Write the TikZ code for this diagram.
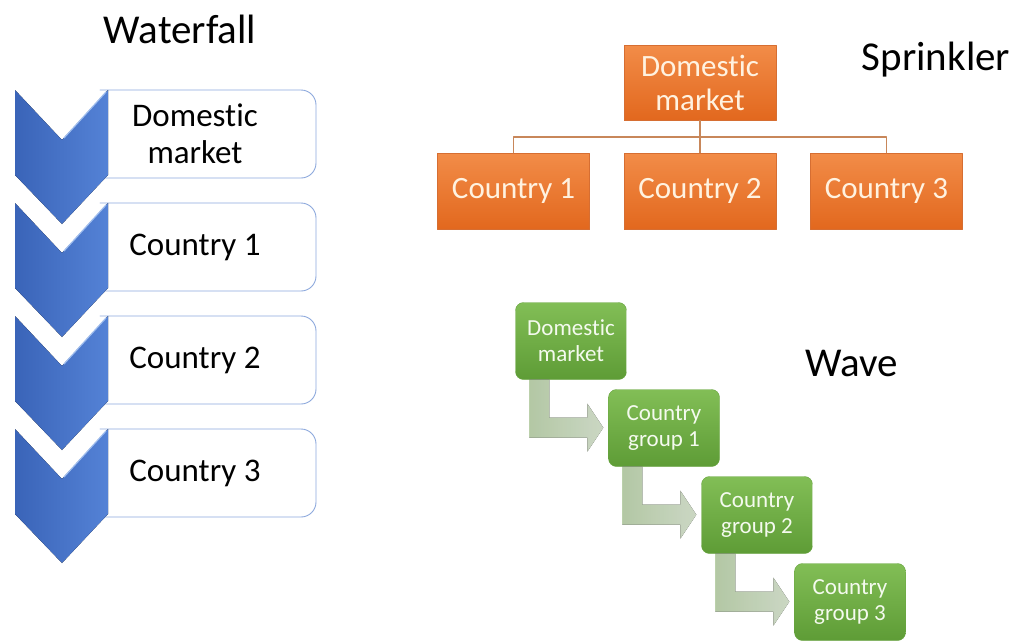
\documentclass[tikz,border=0pt]{standalone}
\usepackage{fontspec}
\setmainfont{Carlito}[Ligatures={NoCommon,NoContextual}]
\usetikzlibrary{positioning}
\definecolor{chevdark}{RGB}{58,100,184}
\definecolor{chevlite}{RGB}{84,130,214}
\definecolor{chevedge}{RGB}{160,190,238}
\definecolor{fallline}{RGB}{140,168,220}
\definecolor{orgtop}{RGB}{242,140,72}
\definecolor{orgbot}{RGB}{226,104,30}
\definecolor{orgedge}{RGB}{214,110,50}
\definecolor{orgtext}{RGB}{255,242,224}
\definecolor{orgline}{RGB}{200,135,90}
\definecolor{wavetop}{RGB}{130,190,86}
\definecolor{wavebot}{RGB}{94,156,54}
\definecolor{waveedge}{RGB}{104,164,64}
\definecolor{wavetext}{RGB}{244,250,238}
\definecolor{bendleft}{RGB}{196,220,180}
\definecolor{bendright}{RGB}{224,237,215}

\tikzset{
  title/.style={anchor=base,font=\fontsize{41}{48}\selectfont},
  chev/.style={left color=chevdark,right color=chevlite},
  chevhi/.style={draw=chevedge,line width=1.2pt},
  fallbox/.style={draw=fallline,line width=0.9pt,rounded corners=15pt},
  falltext/.style={align=center,font=\fontsize{33}{37}\selectfont},
  orgbox/.style={rectangle,minimum width=152pt,minimum height=76pt,inner sep=0pt,
    top color=orgtop,bottom color=orgbot,draw=orgedge,thin,text=orgtext,
    align=center,font=\fontsize{31}{34}\selectfont},
  orglink/.style={draw=orgline,line width=1.2pt},
  wavebox/.style={rectangle,rounded corners=8pt,minimum width=111pt,minimum height=77pt,
    inner sep=0pt,top color=wavetop,bottom color=wavebot,draw=waveedge,thin,
    text=wavetext,align=center,font=\fontsize{23}{26}\selectfont},
  bentarrow/.style={left color=bendleft,right color=bendright,opacity=0.9}
}

\begin{document}
\begin{tikzpicture}[x=1pt,y=-1pt,line cap=round,line join=round]
  \useasboundingbox (0,0) rectangle (1027,640);

  % waterfall
  \node[title] (wfall) at (180,43) {Waterfall};
  \foreach \y/\name/\txt in {90/dm/{Domestic\\market},203/ca/{Country 1},316/cb/{Country 2},429/cc/{Country 3}} {
    \draw[fallbox] (100,\y) -- (316,\y) -- (316,\y+88) -- (100,\y+88);
    \fill[chev] (15,\y) -- (62,\y+50) -- (108,\y) -- (108,\y+85) -- (62,\y+134) -- (15,\y+85) -- cycle;
    \draw[chevhi] (64,\y+48) -- (106,\y+2);
    \node[falltext] (w\name) at (195,\y+44) {\txt};
  }

  % sprinkler
  \node[title] (sprk) at (936,70) {Sprinkler};
  \node[orgbox,minimum height=75pt] (dom) at (700,82.5) {Domestic\\market};
  \node[orgbox] (cty2) at (700,191) {Country 2};
  \node[orgbox,left=34pt of cty2] (cty1) {Country 1};
  \node[orgbox,right=34pt of cty2] (cty3) {Country 3};
  \coordinate (fork) at (700,137);
  \draw[orglink] (dom) -- (fork);
  \draw[orglink] (cty1.north) |- (fork) -| (cty3.north);
  \draw[orglink] (fork) -- (cty2);

  % wave
  \node[title] (wave) at (852,376) {Wave};
  \node[wavebox] (g0) at (571,341) {Domestic\\market};
  \node[wavebox] (g1) at (664,428) {Country\\group 1};
  \node[wavebox] (g2) at (757,515) {Country\\group 2};
  \node[wavebox] (g3) at (850,602) {Country\\group 3};
  \foreach \g in {g0,g1,g2} {
    \fill[bentarrow,shift={(\g.south west)}] (14,0) -- (34,0) -- (34,38) -- (72,38) -- (72,24)
      -- (88,48) -- (72,72) -- (72,58) -- (14,58) -- cycle;
  }
\end{tikzpicture}
\end{document}
